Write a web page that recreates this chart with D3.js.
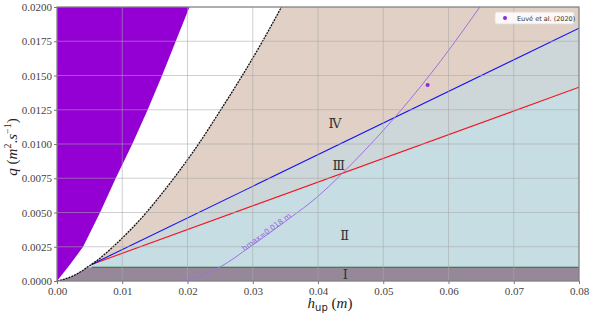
<!DOCTYPE html>
<html><head><meta charset="utf-8">
<script src="https://cdn.jsdelivr.net/npm/d3@7"></script>
<style>body{margin:0;background:#fff}svg{display:block}</style>
</head><body>
<script>
// ---- data ----
const xTicks = [0,0.01,0.02,0.03,0.04,0.05,0.06,0.07,0.08];
const yTicks = [0,0.0025,0.005,0.0075,0.01,0.0125,0.015,0.0175,0.02];
// left (purple) domain boundary  [h, q]
const purpleEdge = [[0,0],[0.0020,0.0012],[0.0040,0.0025],[0.0066,0.005],[0.0090,0.0075],[0.01154,0.01],[0.0139,0.0125],[0.0161,0.015],[0.0182,0.0175],[0.0203,0.02]];
// critical-flow curve (black dashed)
const critCurve = [[0,0],[0.002,0.00028],[0.004,0.00079],[0.0046,0.001],[0.0053,0.00121],[0.0075,0.00203],[0.0086,0.0025],[0.0110,0.00361],[0.0137,0.0050],[0.0160,0.00634],[0.0179,0.0075],[0.0200,0.00885],[0.0217,0.0100],[0.0251,0.0125],[0.0284,0.0150],[0.0315,0.0175],[0.0344,0.0200]];
// straight boundaries [start, end]
const blueLine = [[0.0053,0.00121],[0.08,0.01845]];
const redLine  = [[0.0053,0.00121],[0.08,0.01414]];
const greenLevel = 0.001;
const greenStart = 0.0053;
// hmax = 0.018 m iso-curve
const hmaxCurve = [[0.01834,0],[0.0200,0.00012],[0.02192,0.00037],[0.02498,0.00102],[0.0296,0.0025],[0.0357,0.0046],[0.0398,0.0061],[0.0436,0.0078],[0.0475,0.0097],[0.0526,0.0124],[0.0587,0.0160],[0.0648,0.0200]];
const euvePoint = [[0.0568,0.0143]];
const regionLabels = [["Ⅰ",0.0442,0.0005],["Ⅱ",0.0441,0.0033],["Ⅲ",0.0432,0.0084],["Ⅳ",0.0426,0.0115]];

const W=593,H=316;
const x=d3.scaleLinear([0,0.08],[57,579]);
const y=d3.scaleLinear([0,0.02],[281,7]);
const svg=d3.select("body").append("svg").attr("width",W).attr("height",H);
svg.append("defs").append("clipPath").attr("id","clip").append("rect")
  .attr("x",57).attr("y",7).attr("width",522).attr("height",274);
const g=svg.append("g").attr("clip-path","url(#clip)");
const line=d3.line().x(d=>x(d[0])).y(d=>y(d[1]));
const smooth=d3.line().x(d=>x(d[0])).y(d=>y(d[1])).curve(d3.curveMonotoneX);

const xmax=0.08,ymax=0.02;
const iStart=critCurve.findIndex(d=>d[1]>=greenLevel);
const iJoin=critCurve.findIndex(d=>d[0]>=blueLine[0][0]);
const regI=critCurve.slice(0,iStart+1).concat([[xmax,greenLevel],[xmax,0]]);
const regII=[[xmax,greenLevel]].concat(critCurve.slice(iStart,iJoin+1)).concat([[xmax,redLine[1][1]]]);
const regIII=[blueLine[0],blueLine[1],redLine[1]];
const regIV=critCurve.slice(iJoin).concat([[xmax,ymax],blueLine[1]]);
const regP=purpleEdge.concat([[0,ymax]]);

g.append("path").attr("d",line(regI)+"Z").attr("fill","#968899");
g.append("path").attr("d",line(regII)+"Z").attr("fill","#c5dde3");
g.append("path").attr("d",line(regIII)+"Z").attr("fill","#cdd6d8");
g.append("path").attr("d",line(regIV)+"Z").attr("fill","#e0d0c6");
g.append("path").attr("d",line(regP)+"Z").attr("fill","#9400d3");

// grid
const grid=svg.append("g").attr("stroke","#a8a8a8").attr("stroke-opacity",0.55).attr("stroke-width",1);
xTicks.forEach(t=>grid.append("line").attr("x1",x(t)).attr("x2",x(t)).attr("y1",7).attr("y2",281));
yTicks.forEach(t=>grid.append("line").attr("y1",y(t)).attr("y2",y(t)).attr("x1",57).attr("x2",579));

// lines
g.append("path").attr("d",line([[greenStart,greenLevel],[xmax,greenLevel]])).attr("stroke","#1a6e1a").attr("stroke-width",1.1).attr("fill","none");
g.append("path").attr("d",line(redLine)).attr("stroke","#f0141e").attr("stroke-width",1.1).attr("fill","none");
g.append("path").attr("d",line(blueLine)).attr("stroke","#1010f0").attr("stroke-width",1.1).attr("fill","none");
g.append("path").attr("d",smooth(critCurve)).attr("stroke","#111").attr("stroke-width",1.3).attr("stroke-dasharray","2,1").attr("fill","none");
g.append("path").attr("d",smooth(hmaxCurve)).attr("stroke","#a070e0").attr("stroke-width",1).attr("fill","none");
g.selectAll("circle.pt").data(euvePoint).join("circle").attr("cx",d=>x(d[0])).attr("cy",d=>y(d[1])).attr("r",2).attr("fill","#8a2be2");

// hmax label
svg.append("text").attr("transform","translate(268,234) rotate(-36)").attr("text-anchor","middle")
  .attr("font-family","DejaVu Sans").attr("font-size",7.5).attr("fill","#9a66e0").text("hmax=0.018  m");

// region labels
svg.selectAll("text.reg").data(regionLabels).join("text").attr("class","reg")
  .attr("x",d=>x(d[1])).attr("y",d=>y(d[2])).attr("text-anchor","middle").attr("dominant-baseline","central")
  .attr("font-family","DejaVu Serif").attr("font-size",13).attr("fill","#333").text(d=>d[0]);

// frame
svg.append("rect").attr("x",57).attr("y",7).attr("width",522).attr("height",274).attr("fill","none").attr("stroke","#777").attr("stroke-width",1);

// axes
const ax=svg.append("g").attr("transform","translate(0,281)").call(d3.axisBottom(x).tickValues(xTicks).tickFormat(d3.format(".2f")).tickSize(3).tickPadding(3));
const ay=svg.append("g").attr("transform","translate(57,0)").call(d3.axisLeft(y).tickValues(yTicks).tickFormat(d3.format(".4f")).tickSize(3).tickPadding(2));
[ax,ay].forEach(a=>{a.select(".domain").remove();a.selectAll("line").attr("stroke","#777");
  a.selectAll("text").attr("font-family","Liberation Serif").attr("font-size",11).attr("fill","#444");});

// axis titles
const xl=svg.append("text").attr("x",330).attr("y",308).attr("text-anchor","middle").attr("font-family","Liberation Serif").attr("font-size",15).attr("fill","#222");
xl.append("tspan").attr("font-style","italic").text("h");
xl.append("tspan").attr("font-family","DejaVu Sans").attr("font-size",10).attr("dy",3).text("up");
xl.append("tspan").attr("dy",-3).text(" (");
xl.append("tspan").attr("font-style","italic").text("m");
xl.append("tspan").text(")");

const yl=svg.append("text").attr("transform","translate(17,147) rotate(-90)").attr("text-anchor","middle").attr("font-family","Liberation Serif").attr("font-size",15).attr("fill","#222");
yl.append("tspan").attr("font-style","italic").text("q");
yl.append("tspan").text(" (");
yl.append("tspan").attr("font-style","italic").text("m");
yl.append("tspan").attr("font-size",10).attr("dy",-6).text("2");
yl.append("tspan").attr("dy",6).text(".");
yl.append("tspan").attr("font-style","italic").text("s");
yl.append("tspan").attr("font-size",10).attr("dy",-6).text("−1");
yl.append("tspan").attr("dy",6).text(")");

// legend
const lg=svg.append("g");
lg.append("rect").attr("x",495).attr("y",12).attr("width",79).attr("height",12).attr("rx",2).attr("fill","#fff").attr("fill-opacity",0.85).attr("stroke","#ddd").attr("stroke-width",0.8);
lg.append("circle").attr("cx",505).attr("cy",18).attr("r",2).attr("fill","#8a2be2");
lg.append("text").attr("x",517).attr("y",20.5).attr("font-family","DejaVu Sans").attr("font-size",6.5).attr("fill","#333").text("Euvé et al. (2020)");
</script>
</body></html>
